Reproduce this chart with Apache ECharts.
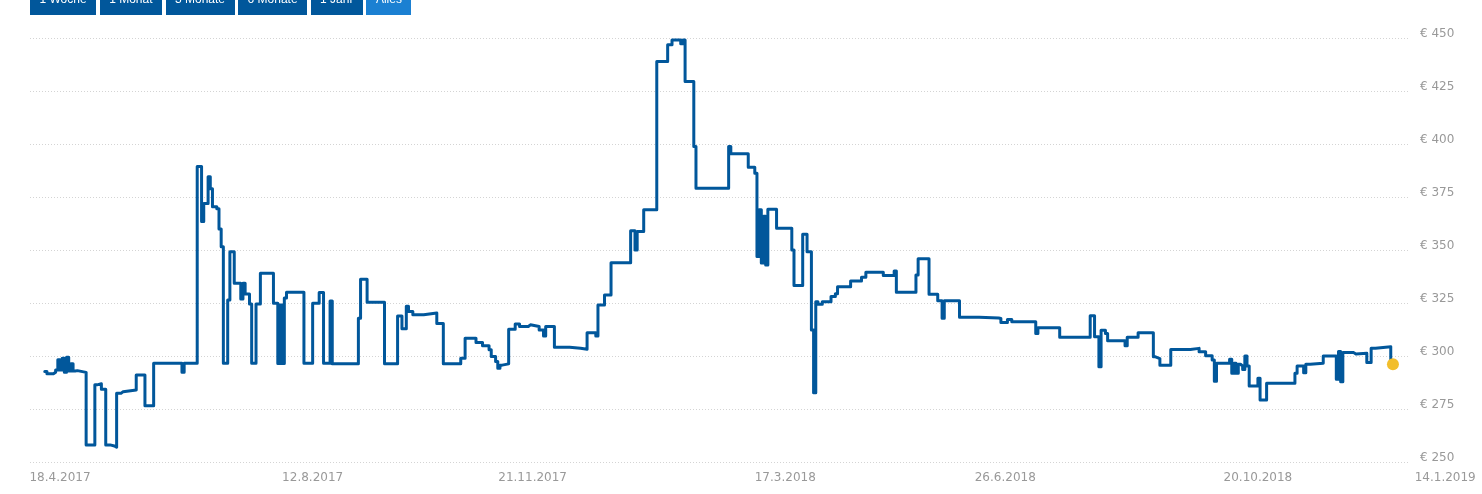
<!DOCTYPE html>
<html>
<head>
<meta charset="utf-8">
<title>Kursverlauf</title>
<script src="https://cdn.jsdelivr.net/npm/echarts@6.0.0/dist/echarts.min.js"></script>
<style>
  html, body { margin: 0; padding: 0; background: #fff; overflow: hidden; }
  #chart { position: absolute; left: 0; top: 0; width: 1482px; height: 494px; }
  .range { position: absolute; left: 30px; top: -8px; display: flex; gap: 3.5px; z-index: 2; }
  .range span {
    display: block; height: 23px; line-height: 23px; padding: 0 9.5px;
    background: #01579b; color: #fff;
    font: 12px "Liberation Sans", Arial, sans-serif;
  }
  .range span.active { background: #1b80d2; }
</style>
</head>
<body>
<div class="range">
  <span>1 Woche</span><span>1 Monat</span><span>3 Monate</span><span>6 Monate</span><span>1 Jahr</span><span class="active">Alles</span>
</div>
<div id="chart"></div>
<script>
// Kurs-Wechselpunkte: ab diesem Tag gilt der Preis (Treppenlinie)
var dates = [
  '2017-04-11','2017-04-12','2017-04-15','2017-04-16','2017-04-17','2017-04-18','2017-04-19','2017-04-20','2017-04-21','2017-04-22','2017-04-23','2017-04-24','2017-04-25','2017-04-26','2017-04-30',
  '2017-05-04','2017-05-05','2017-05-07','2017-05-09','2017-05-11','2017-05-13','2017-05-14','2017-05-16','2017-05-17','2017-05-23','2017-05-27','2017-05-31',
  '2017-06-13','2017-06-14','2017-06-20','2017-06-22','2017-06-23','2017-06-25','2017-06-26','2017-06-27','2017-06-29','2017-06-30',
  '2017-07-01','2017-07-02','2017-07-04','2017-07-05','2017-07-07','2017-07-10','2017-07-11','2017-07-12','2017-07-14','2017-07-15','2017-07-17','2017-07-19','2017-07-25','2017-07-27','2017-07-28','2017-07-29','2017-07-30','2017-07-31',
  '2017-08-08','2017-08-12','2017-08-15','2017-08-17','2017-08-20','2017-08-21',
  '2017-09-02','2017-09-03','2017-09-06','2017-09-14','2017-09-20','2017-09-22','2017-09-24','2017-09-25','2017-09-27',
  '2017-10-02','2017-10-08','2017-10-11','2017-10-19','2017-10-21','2017-10-26','2017-10-29',
  '2017-11-01','2017-11-02','2017-11-04','2017-11-05','2017-11-06','2017-11-07','2017-11-10','2017-11-13','2017-11-15','2017-11-19','2017-11-20','2017-11-24','2017-11-26','2017-11-27',
  '2017-12-01','2017-12-08','2017-12-13','2017-12-16','2017-12-20','2017-12-21','2017-12-24','2017-12-27',
  '2018-01-05','2018-01-07','2018-01-08','2018-01-11','2018-01-17','2018-01-22','2018-01-24','2018-01-28','2018-01-29','2018-01-30',
  '2018-02-03','2018-02-04','2018-02-19','2018-02-20','2018-02-28',
  '2018-03-03','2018-03-04','2018-03-05','2018-03-06','2018-03-07','2018-03-08','2018-03-09','2018-03-13','2018-03-20','2018-03-21','2018-03-25','2018-03-27','2018-03-29','2018-03-30','2018-03-31',
  '2018-04-01','2018-04-03','2018-04-07','2018-04-09','2018-04-10','2018-04-16','2018-04-21','2018-04-23',
  '2018-05-01','2018-05-06','2018-05-07','2018-05-16','2018-05-17','2018-05-22','2018-05-26','2018-05-28','2018-05-29',
  '2018-06-05','2018-06-14','2018-06-23','2018-06-24','2018-06-27','2018-06-29',
  '2018-07-10','2018-07-11','2018-07-21',
  '2018-08-04','2018-08-06','2018-08-08','2018-08-09','2018-08-11','2018-08-12','2018-08-20','2018-08-21','2018-08-26',
  '2018-09-02','2018-09-03','2018-09-05','2018-09-10','2018-09-19','2018-09-23','2018-09-26','2018-09-29','2018-09-30',
  '2018-10-01','2018-10-07','2018-10-08','2018-10-09','2018-10-10','2018-10-11','2018-10-12','2018-10-13','2018-10-14','2018-10-15','2018-10-16','2018-10-20','2018-10-21','2018-10-24',
  '2018-11-06','2018-11-07','2018-11-10','2018-11-11','2018-11-13','2018-11-19','2018-11-25','2018-11-26','2018-11-27','2018-11-28',
  '2018-12-03','2018-12-04','2018-12-09','2018-12-11','2018-12-13','2018-12-20','2018-12-21'
];
var prices = [
  292.8, 291.7, 292.4, 293.5, 298.3, 293.5, 299, 292.4, 299.5, 293, 296.4, 293, 293.2, 292.4, 258.2,
  286.5, 287, 284.4, 258.2, 257.7, 257.1, 282.5, 283.3, 284.1, 291.2, 276.6, 296.7,
  292.4, 296.7, 389.4, 363.5, 372, 384.6, 379, 370.5, 369.5, 360,
  351.6, 296.7, 326.5, 349.3, 334.4, 327, 334.4, 329.3, 324.6, 296.7, 324.6, 339.1, 325, 296.6, 324.1, 296.6, 327.5, 330.1,
  296.7, 325, 330, 296.7, 326, 296.4,
  317.9, 336.3, 325.4, 296.4, 319, 312.9, 323.5, 321.1, 319.6,
  320.4, 315.4, 296.4, 299, 308.5, 306.5, 304.9,
  303, 299.9, 297.5, 294.3, 295.8, 296.4, 312.7, 315.2, 314, 314.8, 314, 312.4, 309.5, 314,
  304.2, 303.8, 303.3, 311.1, 309.5, 324.2, 328.9, 344.1,
  359.1, 350.1, 358.8, 369, 438.9, 446.8, 449.1, 447.3, 449.1, 429.5,
  398.8, 379.2, 398.8, 395.4, 389.1,
  386.3, 347, 369, 344, 366, 343, 369.3, 360.3, 350.1, 333.3, 357.5, 349.3, 312.4, 282.8, 325.7,
  324.5, 325.7, 328.1, 329.4, 332.8, 335.5, 337.2, 339.6,
  338, 340.2, 330.1, 338.3, 345.9, 329.2, 326.2, 317.9, 326.1,
  318.4, 318, 317.8, 315.9, 317.3, 316.2,
  310.7, 313.4, 308.9,
  319.1, 309.2, 295, 312.3, 310.7, 307.3, 304.9, 308.9, 311.1,
  299.7, 298.9, 295.8, 303.2, 303.7, 302.1, 300.2, 298.2, 288.2,
  296.7, 298.6, 292, 296.7, 292, 296.2, 295.4, 293.8, 300.1, 295.4, 286, 289.6, 279.4, 287.3,
  292, 295.4, 292.2, 296.2, 296.7, 300.1, 289.1, 302.2, 288, 301.7,
  301, 301.4, 297, 303.8, 304.5, 296.2, 296.2
];
var tickDates = ['2017-04-18', '2017-08-12', '2017-11-21', '2018-03-17', '2018-06-26', '2018-10-20', '2019-01-14'];
var yTicks = [250, 275, 300, 325, 350, 375, 400, 425, 450];

var lineColor = '#01579b';
var dotColor = '#f2be2c';
var labelColor = '#999999';

var DAY = 864e5;
var parseDate = function(s){ return echarts.number.parseDate(s).getTime(); };

// Zeitachse: 2.178 px pro Tag, 18.4.2017 liegt 30 px rechts vom Plotrand
var pxPerDay = 2.178;
var xMin = parseDate('2017-04-18') - 30 / pxPerDay * DAY;
var xMaxPlot = xMin + 1378 / pxPerDay * DAY;
var xMaxLabels = xMin + 1430 / pxPerDay * DAY;

var series = dates.map(function(d, i){ return [parseDate(d), prices[i]]; });
var last = series[series.length - 1];

var myChart = echarts.init(document.getElementById('chart'), null, { renderer: 'canvas' });

var option = {
  animation: false,
  textStyle: { fontFamily: 'DejaVu Sans, Verdana, sans-serif' },
  grid: [
    { left: 30, top: 38, width: 1378, height: 424.3 },
    { left: 30, top: 38, width: 1430, height: 424.3 }
  ],
  xAxis: [
    {
      type: 'value', gridIndex: 0, min: xMin, max: xMaxPlot,
      axisLine: { show: false }, axisTick: { show: false },
      axisLabel: { show: false }, splitLine: { show: false }
    },
    {
      // nur Beschriftung, reicht über den Plotbereich hinaus
      type: 'value', gridIndex: 1, min: xMin, max: xMaxLabels,
      axisLine: { show: false }, axisTick: { show: false }, splitLine: { show: false },
      axisLabel: {
        customValues: tickDates.map(parseDate),
        color: labelColor,
        fontSize: 12,
        margin: 10,
        formatter: function(value){
          var d = new Date(value);
          return d.getDate() + '.' + (d.getMonth() + 1) + '.' + d.getFullYear();
        }
      }
    }
  ],
  yAxis: [
    {
      type: 'value', gridIndex: 0, position: 'right',
      min: yTicks[0], max: yTicks[yTicks.length - 1], interval: 25,
      axisLine: { show: false }, axisTick: { show: false },
      axisLabel: {
        color: labelColor, fontSize: 12, margin: 12,
        verticalAlign: 'bottom', lineHeight: 9,
        formatter: function(v){ return '€ ' + v; }
      },
      splitLine: { lineStyle: { color: '#d4d4d4', width: 1, type: [1, 2] } }
    },
    { type: 'value', gridIndex: 1, show: false, min: 0, max: 1 }
  ],
  series: [
    {
      type: 'line', xAxisIndex: 0, yAxisIndex: 0,
      step: 'end',
      showSymbol: false, silent: true,
      data: series,
      lineStyle: { color: lineColor, width: 3, join: 'round', cap: 'round' },
      z: 2
    },
    {
      type: 'scatter', xAxisIndex: 0, yAxisIndex: 0,
      silent: true,
      symbolSize: 12,
      itemStyle: { color: dotColor, opacity: 1 },
      data: [last],
      z: 3
    }
  ]
};

myChart.setOption(option);
</script>
</body>
</html>
